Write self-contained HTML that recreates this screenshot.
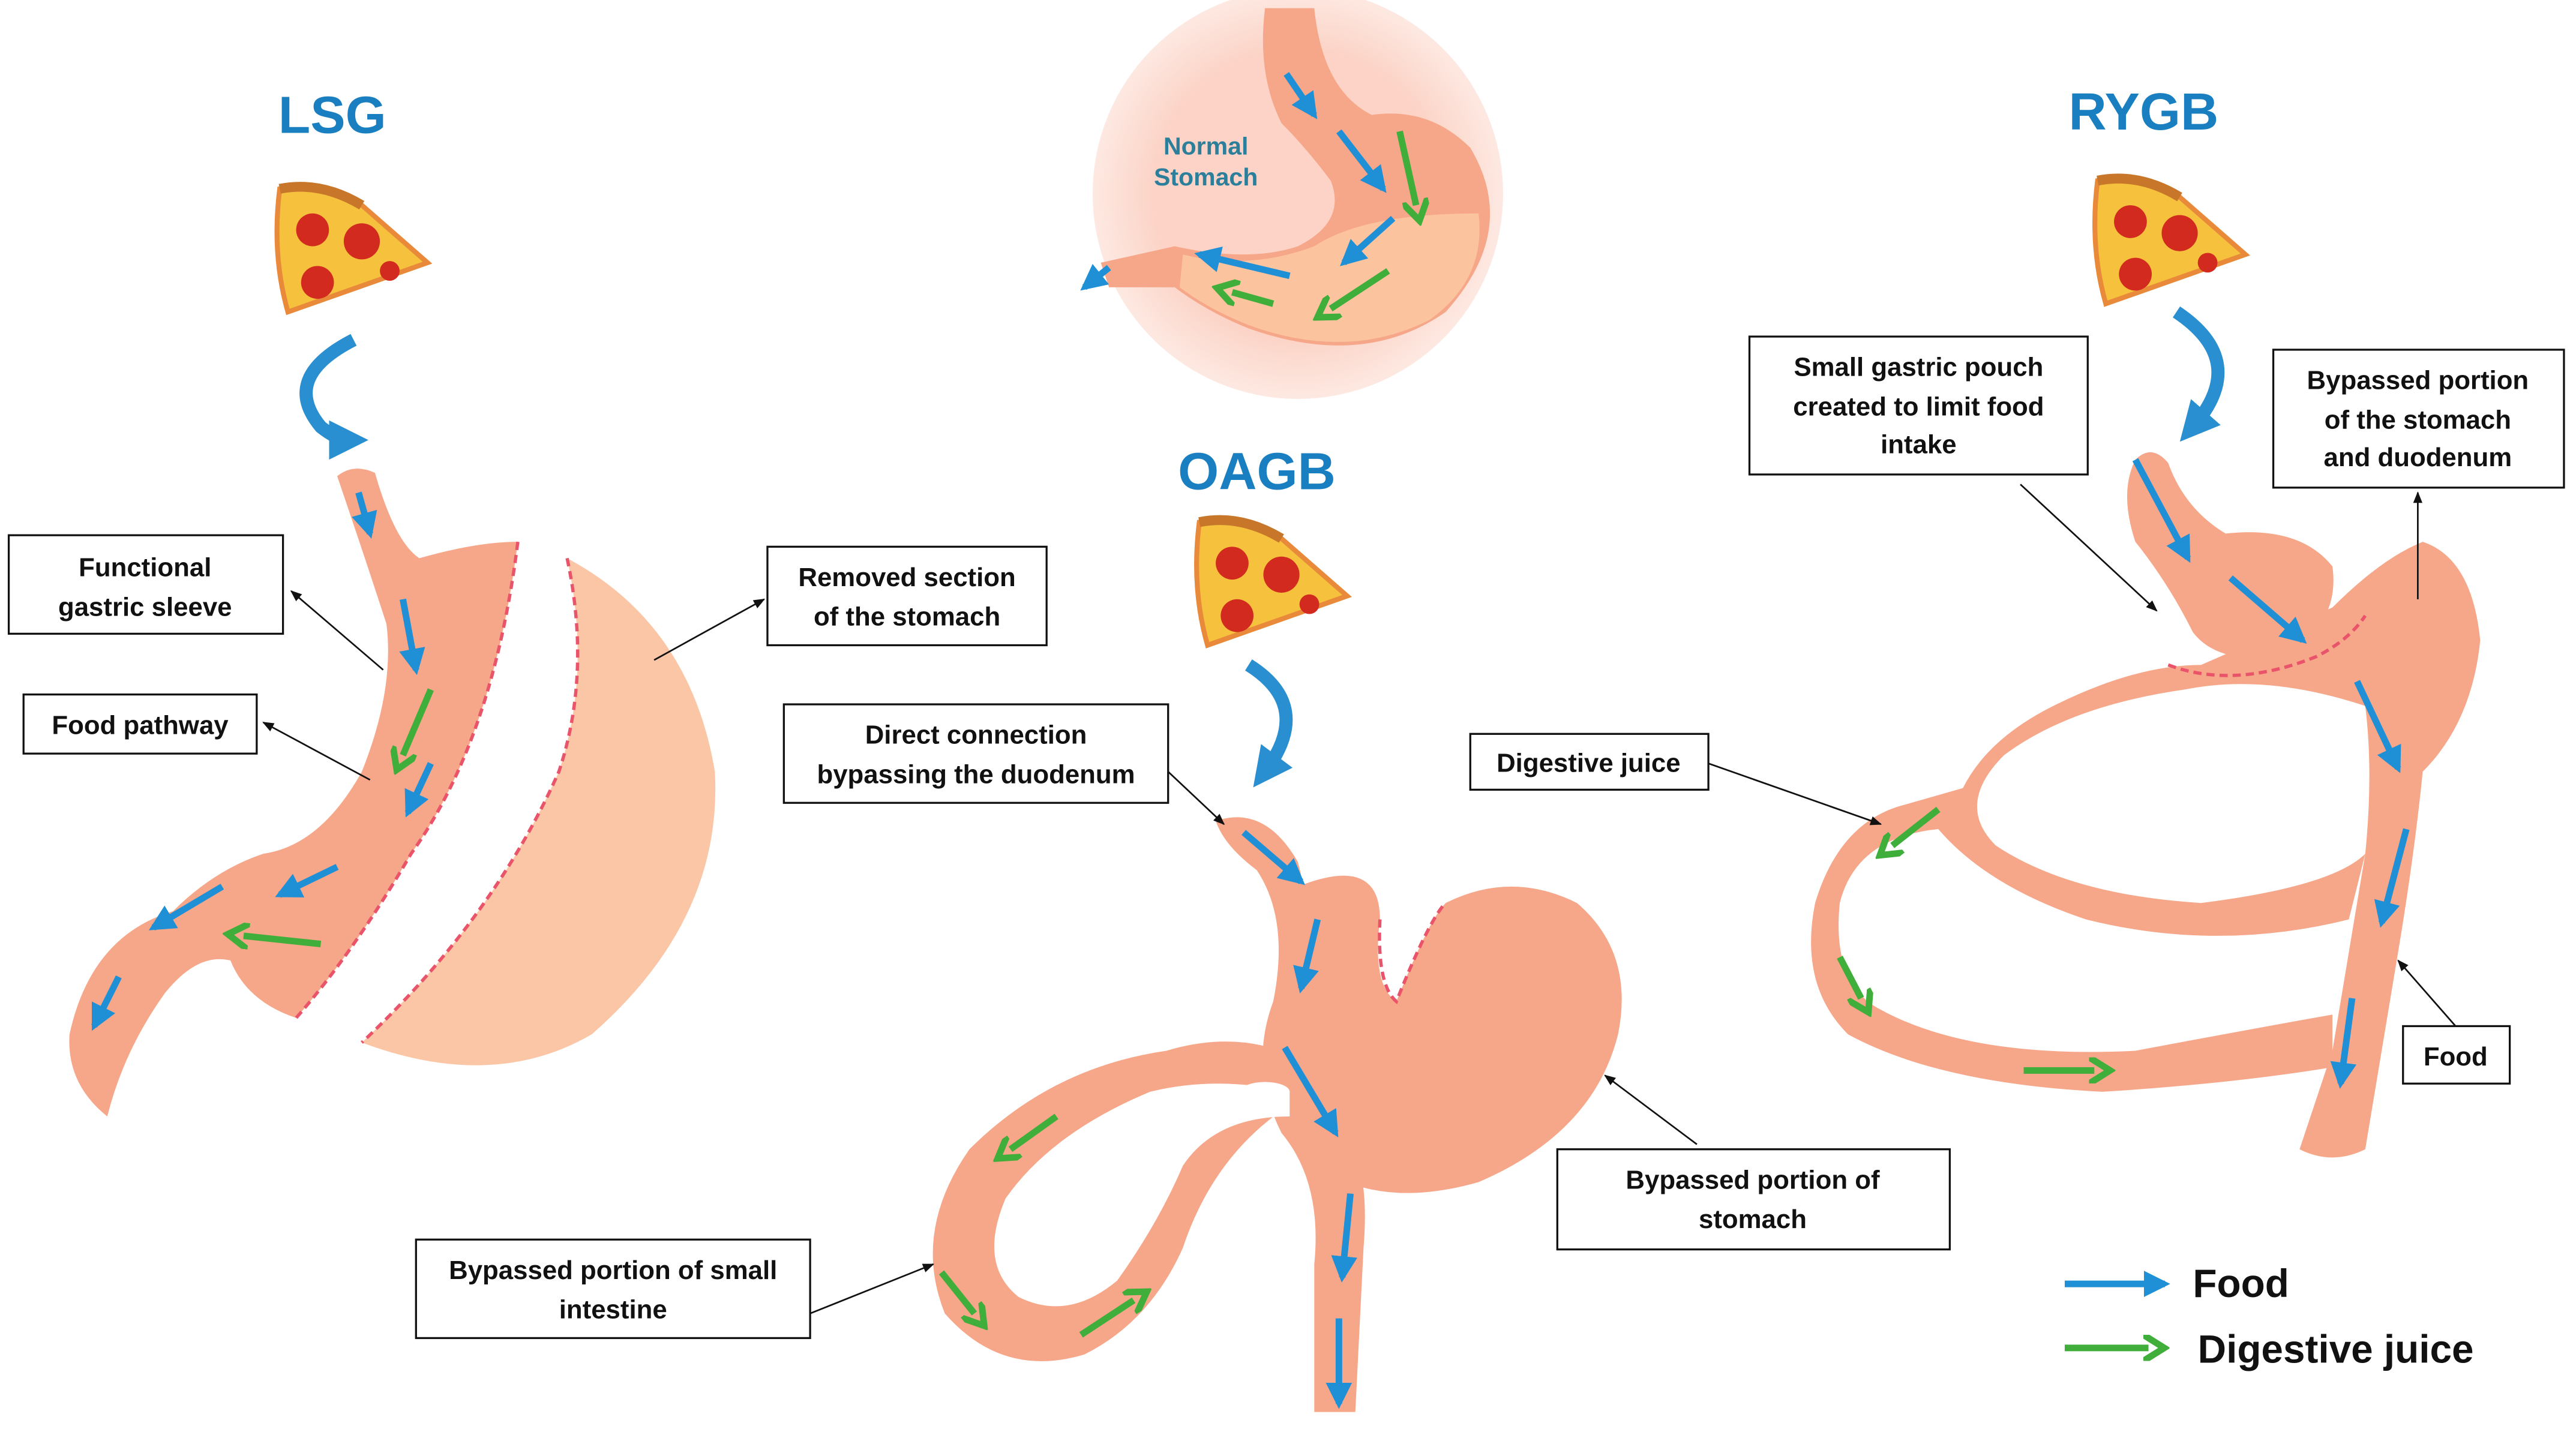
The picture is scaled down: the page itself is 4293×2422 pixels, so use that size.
<!DOCTYPE html>
<html><head><meta charset="utf-8"><style>
html,body{margin:0;padding:0;background:#fff;}
svg{display:block;}
text{font-family:"Liberation Sans","DejaVu Sans",sans-serif;}
</style></head><body>
<svg width="4293" height="2422" viewBox="0 0 1568 885" xmlns="http://www.w3.org/2000/svg">
<defs>
<marker id="bh" viewBox="0 0 10 10" refX="8" refY="5" markerWidth="4" markerHeight="4" orient="auto"><path d="M0,0 L10,5 L0,10 z" fill="#1f8fd6"/></marker>
<marker id="gh" viewBox="0 0 10 10" refX="2" refY="5" markerWidth="4" markerHeight="4" orient="auto"><path d="M0,0 L8,5 L0,10" fill="none" stroke="#3fae3a" stroke-width="2.5"/></marker>
<marker id="kh" viewBox="0 0 10 10" refX="9" refY="5" markerWidth="7" markerHeight="7" orient="auto"><path d="M0,1 L10,5 L0,9 z" fill="#111"/></marker>
<marker id="ch" viewBox="0 0 10 10" refX="5" refY="5" markerWidth="3" markerHeight="3" orient="auto"><path d="M0,0 L10,5 L0,10 z" fill="#2a8fd0"/></marker>
<radialGradient id="ns" cx="0.5" cy="0.5" r="0.5"><stop offset="0.7" stop-color="#fcd3c6"/><stop offset="1" stop-color="#fde9e2"/></radialGradient>
<g id="pizza">
<path d="M-45,-40 Q-20,-45 5,-30 L45,5 L-40,35 Q-50,0 -45,-40z" fill="#f6c23e" stroke="#e98a3a" stroke-width="3"/>
<path d="M-45,-40 Q-20,-45 5,-30" fill="none" stroke="#c8772a" stroke-width="6"/>
<circle cx="-25" cy="-15" r="10" fill="#d22a1f"/><circle cx="5" cy="-8" r="11" fill="#d22a1f"/><circle cx="-22" cy="17" r="10" fill="#d22a1f"/><circle cx="22" cy="10" r="6" fill="#d22a1f"/>
</g>
</defs>
<rect width="1568" height="885" fill="#fff"/>

<!-- Titles -->
<text x="202" y="81" font-size="32" font-weight="bold" fill="#1a7fc1" text-anchor="middle">LSG</text>
<text x="765" y="298" font-size="32" font-weight="bold" fill="#1a7fc1" text-anchor="middle">OAGB</text>
<text x="1305" y="79" font-size="32" font-weight="bold" fill="#1a7fc1" text-anchor="middle">RYGB</text>

<!-- Pizzas -->
<use href="#pizza" transform="translate(215,155)"/>
<use href="#pizza" transform="translate(775,358)"/>
<use href="#pizza" transform="translate(1322,150)"/>

<!-- curved arrows -->
<path d="M215,207 Q170,230 195,260 Q205,268 212,268" fill="none" stroke="#2a8fd0" stroke-width="8" marker-end="url(#ch)"/>
<path d="M760,405 Q800,430 770,470" fill="none" stroke="#2a8fd0" stroke-width="8" marker-end="url(#ch)"/>
<path d="M1325,190 Q1370,220 1335,260" fill="none" stroke="#2a8fd0" stroke-width="8" marker-end="url(#ch)"/>

<!-- Normal stomach -->
<circle cx="790" cy="118" r="125" fill="url(#ns)"/>
<path d="M770,5 L800,5 Q805,55 835,70 Q870,65 895,90 Q925,140 880,190 Q830,225 760,200 Q735,190 715,175 L675,175 L670,160 L715,150 Q760,160 790,150 Q820,135 810,110 Q795,90 780,75 Q765,45 770,5z" fill="#f7a789"/>
<path d="M720,155 Q760,165 800,150 Q830,130 900,130 Q905,170 870,195 Q820,220 760,198 Q735,188 718,175z" fill="#fbc39e"/>
<text x="734" y="94" font-size="15" font-weight="bold" fill="#2b7f9a" text-anchor="middle" font-family="Liberation Serif">Normal</text>
<text x="734" y="113" font-size="15" font-weight="bold" fill="#2b7f9a" text-anchor="middle" font-family="Liberation Serif">Stomach</text>
<g stroke="#1f8fd6" stroke-width="4" marker-end="url(#bh)">
<line x1="783" y1="45" x2="800" y2="70"/><line x1="815" y1="80" x2="842" y2="115"/><line x1="848" y1="133" x2="818" y2="160"/><line x1="785" y1="168" x2="730" y2="155"/><line x1="675" y1="163" x2="660" y2="175"/></g>
<g stroke="#3fae3a" stroke-width="4" marker-end="url(#gh)">
<line x1="852" y1="80" x2="862" y2="125"/><line x1="845" y1="165" x2="810" y2="188"/><line x1="775" y1="185" x2="750" y2="178"/></g>

<!-- LSG sleeve -->
<path d="M205,290 Q215,282 228,288 Q240,330 255,340 Q290,330 315,330 Q300,450 250,520 Q215,580 180,620 Q150,610 140,585 Q120,580 100,605 Q75,640 65,680 Q40,660 42,630 Q55,570 105,555 Q130,530 160,520 Q195,515 220,470 Q240,420 235,380 Q222,340 205,290z" fill="#f7a789"/>
<path d="M315,330 Q300,450 250,520 Q215,580 180,620" fill="none" stroke="#e9546b" stroke-width="2" stroke-dasharray="5,3"/>
<path d="M345,340 Q420,380 435,470 Q440,560 360,630 Q300,665 220,635 Q300,560 340,470 Q360,410 345,340z" fill="#fbc6a6"/>
<path d="M345,340 Q360,410 340,470 Q300,560 220,635" fill="none" stroke="#e9546b" stroke-width="2" stroke-dasharray="5,3"/>
<g stroke="#1f8fd6" stroke-width="4" marker-end="url(#bh)">
<line x1="218" y1="300" x2="225" y2="325"/><line x1="245" y1="365" x2="253" y2="408"/><line x1="262" y1="465" x2="248" y2="495"/><line x1="205" y1="528" x2="170" y2="545"/><line x1="135" y1="540" x2="93" y2="565"/><line x1="72" y1="595" x2="57" y2="625"/></g>
<g stroke="#3fae3a" stroke-width="4" marker-end="url(#gh)">
<line x1="262" y1="420" x2="245" y2="460"/><line x1="195" y1="575" x2="148" y2="570"/></g>

<!-- OAGB -->
<path d="M740,500 Q770,490 790,525 Q800,560 790,620 Q785,655 810,680 Q835,700 830,760 L825,860 L800,860 L800,770 Q805,720 780,690 Q760,650 775,610 Q785,560 765,530 Q745,515 740,500z" fill="#f7a789"/>
<path d="M790,540 Q840,520 840,560 Q835,600 850,610 Q870,560 880,550 Q920,530 960,550 Q995,580 985,630 Q970,690 900,720 Q830,740 790,700 Q770,680 780,660z" fill="#f7a789"/>
<path d="M840,560 Q838,600 850,610 Q870,560 880,550" fill="none" stroke="#e9546b" stroke-width="2" stroke-dasharray="5,3"/>
<path d="M800,650 Q760,625 710,640 Q640,650 590,700 Q555,750 575,800 Q610,840 660,825 Q700,805 720,760 Q740,700 790,670z" fill="#f7a789"/>
<path d="M785,665 Q740,655 700,665 Q640,690 612,730 Q595,770 620,790 Q650,805 680,780 Q705,745 720,710 Q740,680 785,680z" fill="#fff"/>
<ellipse cx="770" cy="665" rx="15" ry="6" fill="#fff"/>
<g stroke="#1f8fd6" stroke-width="4" marker-end="url(#bh)">
<line x1="757" y1="507" x2="792" y2="537"/><line x1="802" y1="560" x2="792" y2="602"/><line x1="782" y1="638" x2="813" y2="690"/><line x1="822" y1="727" x2="817" y2="778"/><line x1="815" y1="803" x2="815" y2="855"/></g>
<g stroke="#3fae3a" stroke-width="4" marker-end="url(#gh)">
<line x1="643" y1="680" x2="615" y2="700"/><line x1="573" y1="775" x2="593" y2="800"/><line x1="658" y1="813" x2="690" y2="792"/></g>

<!-- RYGB -->
<path d="M1300,280 Q1310,270 1320,282 Q1330,310 1355,325 Q1400,320 1420,345 Q1425,380 1390,400 Q1350,405 1335,385 Q1320,355 1300,330 Q1290,300 1300,280z" fill="#f7a789"/>
<path d="M1420,370 Q1450,340 1475,330 Q1505,340 1510,390 Q1505,440 1475,470 Q1470,520 1460,580 Q1450,640 1440,700 Q1420,710 1400,700 L1420,640 Q1430,580 1440,520 Q1445,470 1440,430 Q1380,410 1330,420 Q1260,430 1220,460 Q1190,490 1215,515 Q1260,545 1340,550 Q1420,540 1440,520 L1430,560 Q1350,580 1270,560 Q1210,540 1180,505 Q1130,510 1120,550 Q1115,600 1145,615 Q1200,645 1300,640 Q1380,625 1420,618 L1420,650 Q1360,660 1280,665 Q1180,660 1125,630 Q1095,600 1105,550 Q1120,500 1160,490 L1195,480 Q1210,450 1250,430 Q1300,405 1340,405z" fill="#f7a789"/>
<path d="M1320,405 Q1360,420 1410,400 Q1430,390 1440,375" fill="none" stroke="#e9546b" stroke-width="2" stroke-dasharray="5,3"/>
<g stroke="#1f8fd6" stroke-width="4" marker-end="url(#bh)">
<line x1="1300" y1="280" x2="1332" y2="340"/><line x1="1358" y1="352" x2="1402" y2="390"/><line x1="1435" y1="415" x2="1460" y2="468"/><line x1="1465" y1="505" x2="1450" y2="562"/><line x1="1432" y1="608" x2="1425" y2="660"/></g>
<g stroke="#3fae3a" stroke-width="4" marker-end="url(#gh)">
<line x1="1180" y1="493" x2="1152" y2="515"/><line x1="1120" y1="583" x2="1133" y2="608"/><line x1="1232" y1="652" x2="1275" y2="652"/></g>

<!-- Leader lines -->
<g stroke="#111" stroke-width="1" marker-end="url(#kh)">
<line x1="233" y1="408" x2="177" y2="360"/>
<line x1="225" y1="475" x2="160" y2="440"/>
<line x1="398" y1="402" x2="465" y2="365"/>
<line x1="711" y1="470" x2="745" y2="502"/>
<line x1="1033" y1="697" x2="977" y2="655"/>
<line x1="493" y1="800" x2="568" y2="770"/>
<line x1="1230" y1="295" x2="1313" y2="372"/>
<line x1="1472" y1="365" x2="1472" y2="300"/>
<line x1="1040" y1="465" x2="1145" y2="502"/>
<line x1="1495" y1="625" x2="1460" y2="585"/>
</g>

<!-- Boxes -->
<g fill="#fff" stroke="#111" stroke-width="1.2">
<rect x="5" y="326" width="167" height="60"/><rect x="14" y="423" width="142" height="36"/><rect x="467" y="333" width="170" height="60"/>
<rect x="477" y="429" width="234" height="60"/><rect x="948" y="700" width="239" height="61"/><rect x="253" y="755" width="240" height="60"/>
<rect x="1065" y="205" width="206" height="84"/><rect x="1384" y="213" width="177" height="84"/><rect x="895" y="447" width="145" height="34"/><rect x="1463" y="625" width="65" height="35"/>
</g>
<g font-size="16" font-weight="bold" fill="#111" text-anchor="middle">
<text x="88" y="351">Functional</text><text x="88" y="375">gastric sleeve</text>
<text x="85" y="447">Food pathway</text>
<text x="552" y="357">Removed section</text><text x="552" y="381">of the stomach</text>
<text x="594" y="453">Direct connection</text><text x="594" y="477">bypassing the duodenum</text>
<text x="1067" y="724">Bypassed portion of</text><text x="1067" y="748">stomach</text>
<text x="373" y="779">Bypassed portion of small</text><text x="373" y="803">intestine</text>
<text x="1168" y="229">Small gastric pouch</text><text x="1168" y="253">created to limit food</text><text x="1168" y="276">intake</text>
<text x="1472" y="237">Bypassed portion</text><text x="1472" y="261">of the stomach</text><text x="1472" y="284">and duodenum</text>
<text x="967" y="470">Digestive juice</text>
<text x="1495" y="649">Food</text>
</g>

<!-- Legend -->
<line x1="1257" y1="782" x2="1318" y2="782" stroke="#1f8fd6" stroke-width="4" marker-end="url(#bh)"/>
<text x="1335" y="790" font-size="24" font-weight="bold" fill="#111">Food</text>
<line x1="1257" y1="821" x2="1308" y2="821" stroke="#3fae3a" stroke-width="4" marker-end="url(#gh)"/>
<text x="1338" y="830" font-size="24" font-weight="bold" fill="#111">Digestive juice</text>
</svg>
</body></html>
